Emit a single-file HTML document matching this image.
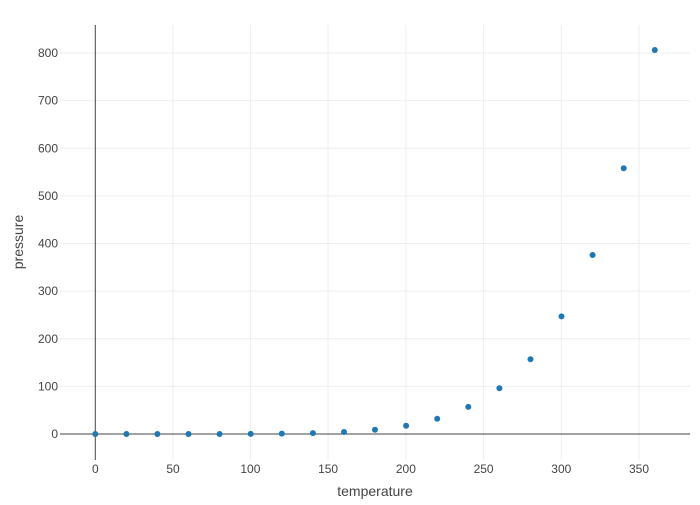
<!DOCTYPE html>
<html><head><meta charset="utf-8"><style>
html,body{margin:0;padding:0;background:#fff;}
svg text{font-family:"Liberation Sans",sans-serif;fill:#444;}
</style></head><body>
<svg width="700" height="500" xmlns="http://www.w3.org/2000/svg">
<g stroke="#eee" stroke-width="1">
<line x1="173" y1="25" x2="173" y2="460"/><line x1="250.4" y1="25" x2="250.4" y2="460"/>
<line x1="328.1" y1="25" x2="328.1" y2="460"/><line x1="405.9" y1="25" x2="405.9" y2="460"/>
<line x1="483.6" y1="25" x2="483.6" y2="460"/><line x1="561.3" y1="25" x2="561.3" y2="460"/>
<line x1="639" y1="25" x2="639" y2="460"/>
<line x1="60" y1="386.4" x2="690" y2="386.4"/><line x1="60" y1="338.8" x2="690" y2="338.8"/>
<line x1="60" y1="291.1" x2="690" y2="291.1"/><line x1="60" y1="243.5" x2="690" y2="243.5"/>
<line x1="60" y1="195.9" x2="690" y2="195.9"/><line x1="60" y1="148.3" x2="690" y2="148.3"/>
<line x1="60" y1="100.6" x2="690" y2="100.6"/><line x1="60" y1="53" x2="690" y2="53"/>
</g>
<line x1="60" y1="434" x2="690" y2="434" stroke="#444" stroke-width="1"/>
<line x1="95.3" y1="25" x2="95.3" y2="460" stroke="#444" stroke-width="1"/>
<g font-size="12" text-anchor="end">
<text x="58" y="438">0</text><text x="58" y="390.5">100</text><text x="58" y="343">200</text>
<text x="58" y="295">300</text><text x="58" y="247.5">400</text><text x="58" y="200">500</text>
<text x="58" y="152.5">600</text><text x="58" y="104.5">700</text><text x="58" y="57">800</text>
</g>
<g font-size="12" text-anchor="middle">
<text x="95.3" y="473">0</text><text x="173" y="473">50</text><text x="250.4" y="473">100</text>
<text x="328.1" y="473">150</text><text x="405.9" y="473">200</text><text x="483.6" y="473">250</text>
<text x="561.3" y="473">300</text><text x="639" y="473">350</text>
</g>
<text x="375" y="496" font-size="14" text-anchor="middle">temperature</text>
<text x="0" y="0" font-size="14" text-anchor="middle" transform="translate(23,242) rotate(-90)">pressure</text>
<g fill="#1f77b4">
<circle cx="95.3" cy="434" r="3"/><circle cx="126.4" cy="434" r="3"/><circle cx="157.4" cy="434" r="3"/>
<circle cx="188.5" cy="434" r="3"/><circle cx="219.6" cy="434" r="3"/><circle cx="250.7" cy="433.9" r="3"/>
<circle cx="281.8" cy="433.6" r="3"/><circle cx="312.9" cy="433.1" r="3"/><circle cx="344" cy="432" r="3"/>
<circle cx="375" cy="429.8" r="3"/><circle cx="406.1" cy="425.8" r="3"/><circle cx="437.2" cy="418.7" r="3"/>
<circle cx="468.3" cy="406.9" r="3"/><circle cx="499.4" cy="388.3" r="3"/><circle cx="530.5" cy="359.2" r="3"/>
<circle cx="561.5" cy="316.4" r="3"/><circle cx="592.6" cy="255" r="3"/><circle cx="623.7" cy="168.3" r="3"/>
<circle cx="654.8" cy="50" r="3"/>
</g>
</svg>
</body></html>
